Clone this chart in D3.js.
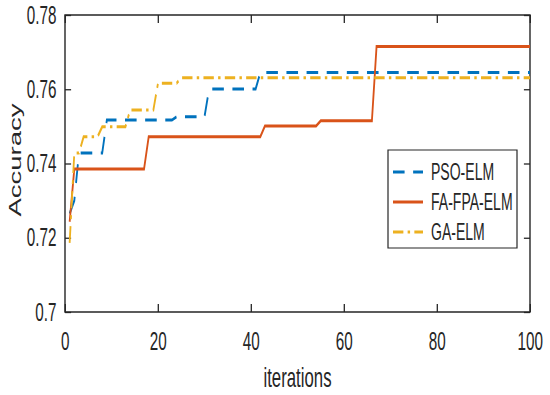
<!DOCTYPE html>
<html>
<head>
<meta charset="utf-8">
<script src="https://cdn.jsdelivr.net/npm/d3@7"></script>
<style>
  html, body { margin: 0; padding: 0; background: #fff; }
  svg { display: block; }
  text { font-family: "Liberation Sans", Arial, Helvetica, sans-serif; fill: #262626; }
</style>
</head>
<body>
<svg id="chart" width="550" height="395"></svg>
<script>
// ---- data (polyline vertices) ----
const seriesNames = ["PSO-ELM", "FA-FPA-ELM", "GA-ELM"];
const psoIter = [1, 2, 3, 8, 9, 23, 24, 30, 31, 41, 42, 100];
const psoAcc  = [0.7265, 0.7300, 0.7428, 0.7428, 0.7517, 0.7517, 0.7526, 0.7526, 0.7601, 0.7601, 0.7645, 0.7645];
const faIter  = [1, 2, 17, 18, 42, 43, 54, 55, 66, 67, 100];
const faAcc   = [0.7243, 0.7385, 0.7385, 0.7472, 0.7472, 0.7501, 0.7501, 0.7515, 0.7515, 0.7715, 0.7715];
const gaIter  = [1, 2, 3, 4, 7, 8, 13, 14, 19, 20, 24, 25, 100];
const gaAcc   = [0.7186, 0.7428, 0.7428, 0.7472, 0.7472, 0.7499, 0.7499, 0.7544, 0.7544, 0.7616, 0.7616, 0.7631, 0.7631];
const xTicks = [0, 20, 40, 60, 80, 100];
const yTicks = [0.70, 0.72, 0.74, 0.76, 0.78];
const yTickLabels = ["0.7", "0.72", "0.74", "0.76", "0.78"];
const xLabel = "iterations";
const yLabel = "Accuracy";

// ---- layout ----
const SX = 0.61; // the reference is squeezed horizontally
const L = 65, R = 530, T = 15, B = 312;
const colors = ["#0072BD", "#D95319", "#EDB120"];
const dashes = ["19,14", null, "17,7,4,7"];

const svg = d3.select("#chart");
const g = svg.append("g").attr("transform", `scale(${SX},1)`);

const x = d3.scaleLinear().domain([0, 100]).range([L / SX, R / SX]);
const y = d3.scaleLinear().domain([0.70, 0.78]).range([B, T]);

// axes
const axisStyle = sel => {
  sel.selectAll("path.domain").remove();
  sel.selectAll(".tick line").attr("stroke", "#262626").attr("stroke-width", 1.3)
     .attr("vector-effect", "non-scaling-stroke");
  sel.selectAll(".tick text").attr("font-size", 25).attr("fill", "#262626")
     .attr("font-family", '"Liberation Sans", Arial, sans-serif');
};
g.append("g").attr("transform", `translate(0,${B})`)
  .call(d3.axisBottom(x).tickValues(xTicks).tickSizeInner(-8).tickSizeOuter(0).tickPadding(20))
  .call(axisStyle);
g.append("g").attr("transform", `translate(0,${T})`)
  .call(d3.axisTop(x).tickValues(xTicks).tickSizeInner(-8).tickSizeOuter(0).tickFormat(""))
  .call(axisStyle);
g.append("g").attr("transform", `translate(${L / SX},0)`)
  .call(d3.axisLeft(y).tickValues(yTicks).tickSizeInner(-10).tickSizeOuter(0).tickPadding(14)
        .tickFormat((d, i) => yTickLabels[i]))
  .call(axisStyle);
g.append("g").attr("transform", `translate(${R / SX},0)`)
  .call(d3.axisRight(y).tickValues(yTicks).tickSizeInner(-10).tickSizeOuter(0).tickFormat(""))
  .call(axisStyle);

// box
g.append("rect")
  .attr("x", x(0)).attr("y", y(0.78))
  .attr("width", x(100) - x(0)).attr("height", y(0.70) - y(0.78))
  .attr("fill", "none").attr("stroke", "#262626").attr("stroke-width", 1.4)
  .attr("vector-effect", "non-scaling-stroke");

// lines
const series = [
  { iter: psoIter, acc: psoAcc },
  { iter: faIter, acc: faAcc },
  { iter: gaIter, acc: gaAcc }
];
const line = d3.line().x(d => x(d[0])).y(d => y(d[1]));
series.forEach((s, k) => {
  const pts = s.iter.map((it, i) => [it, s.acc[i]]);
  g.append("path").datum(pts)
    .attr("d", line)
    .attr("fill", "none")
    .attr("stroke", colors[k])
    .attr("stroke-width", 3)
    .attr("stroke-linejoin", "miter")
    .attr("stroke-dasharray", dashes[k]);
});

// axis labels
g.append("text")
  .attr("x", (x(0) + x(100)) / 2).attr("y", 387)
  .attr("text-anchor", "middle").attr("font-size", 27.5)
  .text(xLabel);
g.append("text")
  .attr("transform", `translate(${21 / SX},160) rotate(-90)`)
  .attr("text-anchor", "middle").attr("font-size", 27.5)
  .text(yLabel);

// legend
const lg = g.append("g");
lg.append("rect")
  .attr("x", 388 / SX).attr("y", 150)
  .attr("width", (517 - 388) / SX).attr("height", 98)
  .attr("fill", "#fff").attr("stroke", "#262626").attr("stroke-width", 1.2)
  .attr("vector-effect", "non-scaling-stroke");
seriesNames.forEach((name, k) => {
  const cy = 172 + k * 30;
  lg.append("line")
    .attr("x1", 393 / SX).attr("x2", 423 / SX).attr("y1", cy).attr("y2", cy)
    .attr("stroke", colors[k]).attr("stroke-width", 3)
    .attr("stroke-dasharray", dashes[k]);
  lg.append("text")
    .attr("x", 431 / SX).attr("y", cy).attr("dy", "0.36em")
    .attr("font-size", 23).attr("fill", "#000")
    .text(name);
});
</script>
</body>
</html>
